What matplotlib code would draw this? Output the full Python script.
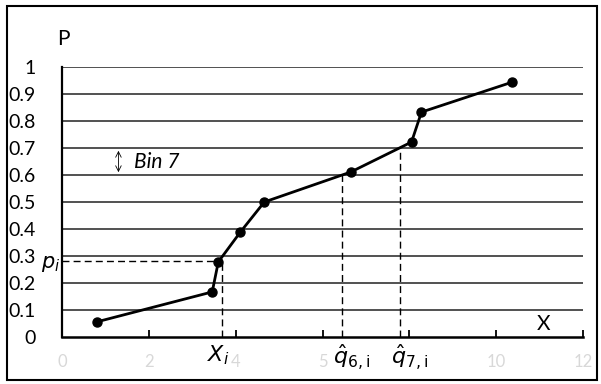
import matplotlib
matplotlib.use("Agg")
import matplotlib.pyplot as plt
from matplotlib.patches import Rectangle

# Data
x_vals = [0.80, 3.46, 3.60, 4.11, 4.66, 6.65, 8.05, 8.28, 10.37]
p_vals = [0.056, 0.167, 0.278, 0.389, 0.500, 0.611, 0.722, 0.833, 0.944]
y_ticks = [0, 0.1, 0.2, 0.3, 0.4, 0.5, 0.6, 0.7, 0.8, 0.9, 1]
y_labels = ["0", "0.1", "0.2", "0.3", "0.4", "0.5", "0.6", "0.7", "0.8", "0.9", "1"]
x_ticks = [0, 2, 4, 6, 8, 10, 12]
x_labels = ["0", "2", "4", "5", "", "10", "12"]
xi_x, pi_y = 3.68, 0.28
q6_x, q7_x = 6.46, 7.78

plt.rcParams['font.family'] = ['Lato', 'DejaVu Sans']

fig = plt.figure(figsize=(6.01, 3.84), dpi=100)
ax = fig.add_axes([62/601, 1-337/384, (583-62)/601, (337-67)/384])
ax.set_xlim(0, 12)
ax.set_ylim(0, 1)

# gridlines
for y in y_ticks[1:]:
    ax.axhline(y, color='#222222', lw=1.1, zorder=1)

ax.plot(x_vals, p_vals, color='black', lw=2, marker='o', ms=6.5, zorder=4, clip_on=False)

# dashed lines
dash = (0, (5, 3))
ax.plot([0, xi_x], [pi_y, pi_y], ls=dash, color='black', lw=1, zorder=3)
ax.plot([xi_x, xi_x], [0, pi_y], ls=dash, color='black', lw=1, zorder=3)
ax.plot([q6_x, q6_x], [0, 0.6], ls=dash, color='black', lw=1, zorder=3)
ax.plot([q7_x, q7_x], [0, 0.7], ls=dash, color='black', lw=1, zorder=3)

for s in ['top', 'right']:
    ax.spines[s].set_visible(False)
ax.spines['left'].set_linewidth(1.6)
ax.spines['bottom'].set_linewidth(1.8)

ax.set_yticks(y_ticks)
ax.set_yticklabels(y_labels, fontsize=14)
ax.tick_params(axis='y', length=0, pad=19)
ax.set_xticks(x_ticks)
ax.set_xticklabels(x_labels, fontsize=12, color='#d8d8d8')
ax.tick_params(axis='x', direction='in', length=5, width=1.3, pad=12)

# Texts
fig.text(57/601, 1-39/384, "P", fontsize=15, ha='left', va='center')
ax.text(11.1, 0.05, "X", fontsize=15, ha='center', va='center')
ax.annotate("", xy=(1.3, 0.6), xytext=(1.3, 0.7),
            arrowprops=dict(arrowstyle='<->', lw=0.6, color='black'))
ax.text(1.65, 0.65, "Bin 7", fontsize=15, style='italic', ha='left', va='center')
fig.text(51/601, 1-264/384, "$p_i$", fontsize=15, ha='center', va='center', zorder=10)
fig.text(218/601, 1-355/384, "$X_i$", fontsize=16, ha='center', va='center')
fig.text(352/601, 1-357/384, r"$\hat{q}_{6,\mathrm{i}}$", fontsize=16, ha='center', va='center')
fig.text(410/601, 1-357/384, r"$\hat{q}_{7,\mathrm{i}}$", fontsize=16, ha='center', va='center')

# figure border
fig.patches.append(Rectangle((7/601, 4/384), 590/601, 374/384, transform=fig.transFigure,
                             fill=False, edgecolor='black', lw=1.5))

fig.savefig("out.png", dpi=100)
